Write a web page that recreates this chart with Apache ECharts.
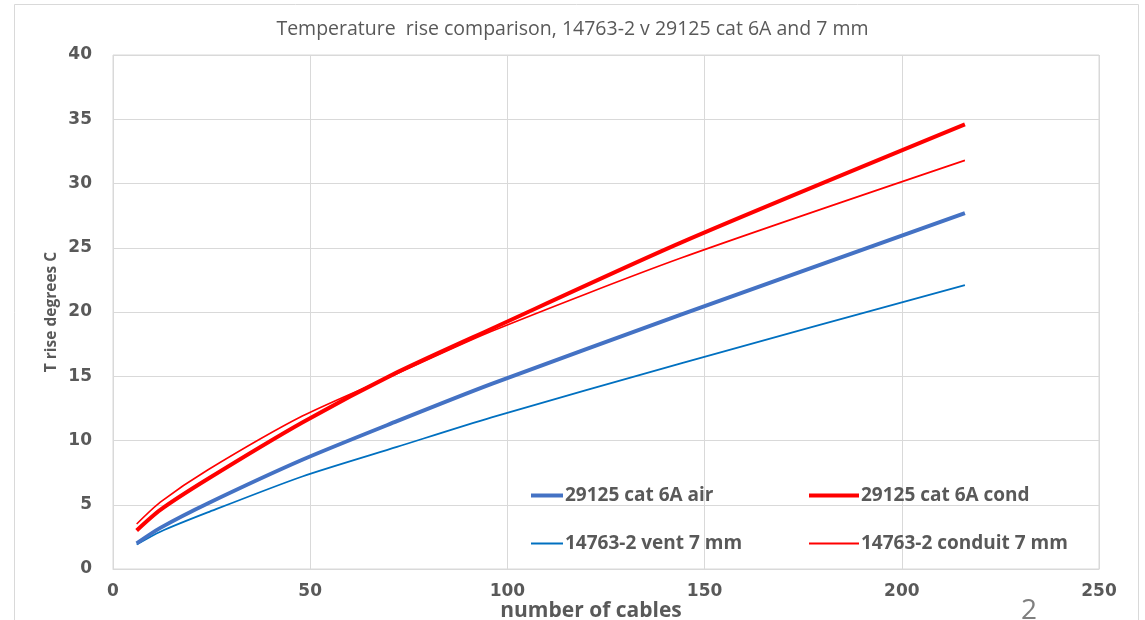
<!DOCTYPE html>
<html>
<head>
<meta charset="utf-8">
<script src="https://cdn.jsdelivr.net/npm/echarts@6/dist/echarts.min.js"></script>
<style>html,body{margin:0;padding:0;background:#fff;}#c{width:1145px;height:620px;}</style>
</head>
<body>
<div id="c"></div>
<script>
const cables = [6, 12, 24, 48, 72, 96, 144, 216];
const air29125 = [2.0, 3.2, 5.1, 8.5, 11.5, 14.4, 19.8, 27.7];
const cond29125 = [3.0, 4.6, 7.0, 11.4, 15.3, 18.7, 25.4, 34.6];
const vent14763 = [1.9, 2.9, 4.4, 7.2, 9.5, 11.8, 16.0, 22.1];
const conduit14763 = [3.5, 5.2, 7.7, 11.9, 15.2, 18.5, 24.2, 31.8];
const names = ['29125 cat 6A air', '29125 cat 6A cond', '14763-2 vent 7 mm', '14763-2 conduit 7 mm'];
const xTicks = [0, 50, 100, 150, 200, 250];
const yTicks = [0, 5, 10, 15, 20, 25, 30, 35, 40];

const pair = (ys) => cables.map((x, i) => [x, ys[i]]);
const gray = '#595959';
const legendText = {color: gray, fontFamily: 'Open Sans', fontWeight: 'bold', fontSize: 19, padding: [0, 0, 0, -3]};

const chart = echarts.init(document.getElementById('c'));
chart.setOption({
  animation: false,
  backgroundColor: '#fff',
  title: {
    text: 'Temperature  rise comparison, 14763-2 v 29125 cat 6A and 7 mm',
    left: 'center', top: 14,
    textStyle: {color: gray, fontFamily: 'Open Sans', fontWeight: 'normal', fontSize: 19.5}
  },
  graphic: [
    {type: 'rect', shape: {x: 14.5, y: 4.5, width: 1124, height: 700}, style: {fill: 'none', stroke: '#d9d9d9', lineWidth: 1}, silent: true},
    {type: 'text', left: 1021, top: 597, style: {text: '2', fill: '#7f7f7f', font: '28px "Open Sans"'}}
  ],
  grid: {left: 113, right: 46, top: 55, bottom: 51, show: true, borderColor: '#d9d9d9', borderWidth: 1, outerBoundsMode: 'none', containLabel: false},
  legend: [
    {data: [names[0]], left: 526, top: 481, icon: 'rect', itemWidth: 32, itemHeight: 4, textStyle: legendText},
    {data: [names[1]], left: 804, top: 481, icon: 'rect', itemWidth: 50, itemHeight: 4, textStyle: legendText},
    {data: [names[2]], left: 526, top: 529, icon: 'rect', itemWidth: 32, itemHeight: 2, textStyle: legendText},
    {data: [names[3]], left: 804, top: 529, icon: 'rect', itemWidth: 50, itemHeight: 2, textStyle: legendText}
  ],
  xAxis: {
    type: 'value', min: 0, max: 250, interval: 50,
    name: 'number of cables', nameLocation: 'middle', nameGap: 32, nameMoveOverlap: false,
    nameTextStyle: {color: gray, fontFamily: 'Open Sans', fontWeight: 'bold', fontSize: 21, padding: [0, 30, 0, 0]},
    axisLine: {show: true, lineStyle: {color: '#d9d9d9'}},
    axisTick: {show: false},
    axisLabel: {color: gray, fontFamily: 'DejaVu Sans', fontWeight: 'bold', fontSize: 17, margin: 14,
      formatter: v => xTicks.includes(v) ? String(v) : ''},
    splitLine: {show: true, lineStyle: {color: '#d9d9d9', width: 1}}
  },
  yAxis: {
    type: 'value', min: 0, max: 40, interval: 5,
    name: 'T rise degrees C', nameLocation: 'middle', nameGap: 53, nameRotate: 90, nameMoveOverlap: false,
    nameTextStyle: {color: gray, fontFamily: 'Open Sans', fontWeight: 'bold', fontSize: 15.5},
    axisLine: {show: false},
    axisTick: {show: false},
    axisLabel: {color: gray, fontFamily: 'DejaVu Sans', fontWeight: 'bold', fontSize: 17, margin: 21,
      formatter: v => yTicks.includes(v) ? String(v) : ''},
    splitLine: {show: true, lineStyle: {color: '#d9d9d9', width: 1}}
  },
  series: [
    {name: names[0], type: 'line', data: pair(air29125), symbol: 'none', smooth: 0.25, color: '#4472C4', lineStyle: {width: 4, color: '#4472C4'}, z: 3},
    {name: names[1], type: 'line', data: pair(cond29125), symbol: 'none', smooth: 0.25, color: '#FF0000', lineStyle: {width: 4, color: '#FF0000'}, z: 4},
    {name: names[2], type: 'line', data: pair(vent14763), symbol: 'none', smooth: 0.25, color: '#0070C0', lineStyle: {width: 1.8, color: '#0070C0'}, z: 2},
    {name: names[3], type: 'line', data: pair(conduit14763), symbol: 'none', smooth: 0.25, color: '#FF0000', lineStyle: {width: 1.6, color: '#FF0000'}, z: 2}
  ]
});
</script>
</body>
</html>
